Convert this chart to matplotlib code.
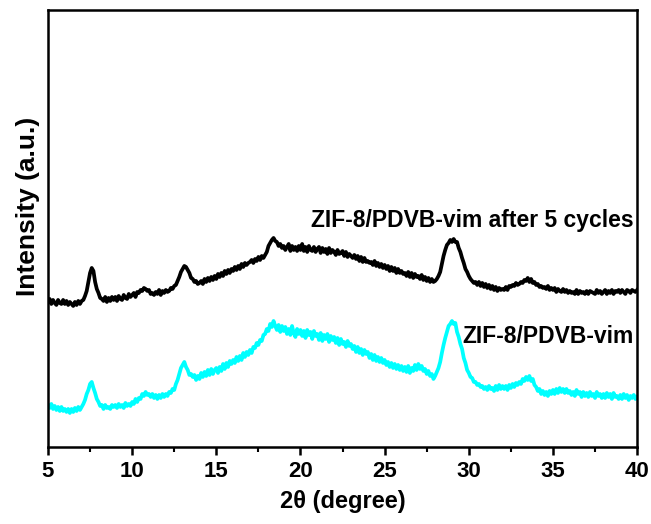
import numpy as np
import matplotlib
matplotlib.use("Agg")
import matplotlib.pyplot as plt
from matplotlib.ticker import MultipleLocator

# 2-theta grid: 5.0 .. 40.0 deg in 0.1 deg steps
two_theta = np.round(np.arange(5.0, 40.0001, 0.1), 1)

# ZIF-8/PDVB-vim after 5 cycles (a.u.), one row per degree
after_cycles = [
    158, 161, 156, 160, 157, 155, 160, 157, 156, 160,   # 5
    156, 159, 155, 158, 156, 154, 158, 155, 159, 156,   # 6
    159, 160, 164, 169, 178, 187, 192, 189, 178, 171,   # 7
    167, 162, 161, 159, 163, 158, 162, 159, 163, 160,   # 8
    163, 159, 164, 161, 160, 165, 162, 161, 166, 163,   # 9
    165, 167, 163, 168, 167, 170, 169, 172, 171, 169,   # 10
    170, 166, 167, 165, 168, 166, 170, 165, 169, 167,   # 11
    170, 168, 169, 172, 171, 174, 175, 179, 183, 188,   # 12
    191, 194, 193, 190, 187, 182, 181, 178, 179, 176,   # 13
    177, 179, 176, 181, 178, 182, 179, 183, 180, 184,   # 14
    181, 186, 183, 187, 184, 189, 186, 190, 187, 191,   # 15
    189, 193, 190, 194, 191, 196, 193, 197, 195, 197,   # 16
    198, 200, 197, 201, 199, 203, 200, 204, 202, 205,   # 17
    208, 214, 217, 220, 222, 219, 218, 214, 216, 212,   # 18
    214, 210, 213, 216, 209, 214, 210, 213, 209, 214,   # 19
    210, 216, 209, 213, 208, 214, 210, 209, 213, 208,   # 20
    211, 213, 207, 212, 208, 211, 206, 212, 207, 210,   # 21
    208, 205, 210, 206, 207, 209, 204, 208, 203, 206,   # 22
    204, 202, 205, 201, 204, 199, 203, 198, 202, 198,   # 23
    199, 197, 198, 195, 199, 194, 197, 193, 196, 192,   # 24
    195, 191, 194, 189, 193, 189, 192, 187, 191, 187,   # 25
    189, 186, 187, 184, 188, 183, 187, 182, 186, 183,   # 26
    184, 181, 185, 180, 183, 179, 182, 178, 181, 178,   # 27
    179, 181, 184, 188, 196, 204, 210, 215, 217, 220,   # 28
    218, 221, 218, 218, 212, 208, 202, 197, 191, 188,   # 29
    184, 181, 179, 177, 178, 175, 178, 174, 177, 173,   # 30
    176, 172, 175, 171, 174, 170, 173, 169, 172, 170,   # 31
    171, 170, 173, 170, 174, 173, 175, 174, 177, 175,   # 32
    176, 178, 177, 180, 179, 182, 178, 181, 177, 178,   # 33
    175, 176, 173, 174, 172, 173, 171, 174, 170, 172,   # 34
    170, 172, 168, 171, 169, 168, 171, 168, 170, 167,   # 35
    169, 167, 168, 166, 170, 166, 169, 167, 168, 166,   # 36
    169, 166, 169, 168, 167, 166, 170, 167, 169, 166,   # 37
    168, 170, 166, 169, 167, 170, 166, 169, 168, 170,   # 38
    167, 170, 168, 166, 170, 169, 167, 170, 169, 168,   # 39
    170,                                                # 40
]

# ZIF-8/PDVB-vim (a.u.), one row per degree
fresh = [
    55, 52, 56, 51, 54, 50, 53, 49, 53, 49,             # 5
    51, 48, 51, 47, 51, 48, 52, 49, 53, 50,             # 6
    53, 56, 60, 66, 70, 76, 78, 72, 67, 61,             # 7
    58, 54, 55, 51, 55, 52, 53, 51, 55, 53,             # 8
    55, 52, 56, 53, 55, 52, 57, 54, 56, 54,             # 9
    58, 56, 61, 58, 62, 61, 66, 64, 68, 65,             # 10
    66, 63, 66, 62, 65, 61, 65, 62, 66, 63,             # 11
    66, 64, 68, 67, 71, 70, 76, 80, 86, 92,             # 12
    95, 98, 93, 90, 85, 86, 83, 85, 80, 84,             # 13
    81, 87, 83, 88, 84, 90, 85, 91, 86, 90,             # 14
    92, 87, 93, 89, 96, 91, 97, 93, 99, 96,             # 15
    100, 97, 103, 99, 104, 100, 107, 103, 108, 105,     # 16
    110, 107, 113, 112, 117, 115, 120, 119, 125, 126,   # 17
    131, 129, 136, 133, 139, 134, 130, 135, 128, 134,   # 18
    129, 133, 126, 131, 125, 134, 127, 123, 131, 126,   # 19
    130, 124, 129, 122, 130, 125, 128, 121, 129, 124,   # 20
    126, 120, 127, 119, 125, 121, 126, 118, 124, 120,   # 21
    123, 117, 122, 115, 121, 116, 118, 113, 119, 114,   # 22
    116, 111, 114, 108, 113, 107, 111, 105, 110, 106,   # 23
    108, 102, 106, 100, 105, 99, 103, 98, 102, 97,      # 24
    100, 95, 98, 93, 97, 92, 96, 91, 95, 90,            # 25
    94, 89, 93, 88, 94, 87, 92, 89, 95, 90,             # 26
    96, 91, 94, 89, 91, 86, 89, 84, 86, 81,             # 27
    84, 88, 92, 98, 107, 115, 122, 128, 134, 136,       # 28
    139, 136, 137, 128, 123, 116, 111, 102, 97, 90,     # 29
    87, 83, 82, 78, 78, 75, 76, 73, 74, 71,             # 30
    73, 70, 74, 71, 72, 69, 74, 70, 75, 71,             # 31
    74, 71, 74, 70, 75, 72, 76, 73, 77, 75,             # 32
    78, 76, 81, 79, 83, 80, 84, 79, 81, 75,             # 33
    73, 69, 71, 66, 69, 65, 68, 64, 69, 66,             # 34
    70, 66, 71, 67, 72, 68, 71, 67, 71, 67,             # 35
    69, 65, 68, 64, 70, 66, 68, 63, 68, 64,             # 36
    67, 63, 68, 64, 66, 62, 68, 64, 66, 62,             # 37
    66, 62, 67, 63, 66, 61, 67, 63, 64, 61,             # 38
    65, 61, 66, 62, 65, 60, 64, 62, 65, 61,             # 39
    63,                                                 # 40
]

series_labels = ["ZIF-8/PDVB-vim after 5 cycles", "ZIF-8/PDVB-vim"]
x_ticks = [5, 10, 15, 20, 25, 30, 35, 40]

plt.rcParams["font.family"] = ["Liberation Sans", "DejaVu Sans"]
plt.rcParams["font.weight"] = "bold"

fig = plt.figure(figsize=(6.51, 5.24), dpi=100)
ax = fig.add_axes([0.0737, 0.147, 0.905, 0.834])

ax.plot(two_theta, after_cycles, color="black", lw=2.7, solid_joinstyle="round")
ax.plot(two_theta, fresh, color="#00FFFF", lw=2.7, solid_joinstyle="round")

ax.text(39.8, 233, series_labels[0], ha="right", va="baseline",
        fontsize=16.5, fontweight="bold")
ax.text(39.8, 117, series_labels[1], ha="right", va="baseline",
        fontsize=16.5, fontweight="bold")

ax.set_xlim(5, 40)
ax.set_ylim(13, 450)
ax.set_xticks(x_ticks)
ax.xaxis.set_minor_locator(MultipleLocator(2.5))
ax.set_yticks([])

for side in ("left", "right", "top", "bottom"):
    ax.spines[side].set_linewidth(1.8)

ax.tick_params(axis="x", which="major", direction="out", length=6, width=1.8,
               labelsize=16, pad=4)
ax.tick_params(axis="x", which="minor", direction="out", length=3.5, width=1.5)
for lbl in ax.get_xticklabels():
    lbl.set_fontweight("bold")

ax.set_xlabel("2θ (degree)", fontsize=17, fontweight="bold", labelpad=6)
ax.set_ylabel("Intensity (a.u.)", fontsize=19, fontweight="bold")
ax.yaxis.set_label_coords(-0.014, 0.55)

fig.savefig("out.png", dpi=100)
